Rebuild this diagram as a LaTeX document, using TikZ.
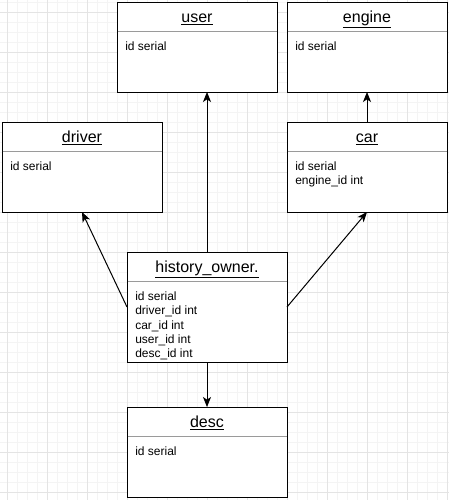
\documentclass[tikz,border=0pt]{standalone}
\usepackage{fontspec}
\setmainfont{Liberation Sans}
\usetikzlibrary{arrows.meta,calc}
\definecolor{gridminor}{HTML}{F4F4F4}
\definecolor{gridmajor}{HTML}{E4E4E4}
\definecolor{divgray}{HTML}{9A9A9A}
\tikzset{
  tbl/.style={draw=black, line width=0.75pt, fill=white, minimum width=120pt, minimum height=67.5pt, inner sep=0pt, outer sep=0pt},
  tbltall/.style={tbl, minimum height=82.5pt},
  ttl/.style={anchor=base, inner sep=0pt, font=\fontsize{12pt}{14pt}\selectfont},
  attr/.style={anchor=north west, inner sep=0pt, align=left, font=\fontsize{9pt}{10.7pt}\selectfont},
  divline/.style={draw=divgray, line width=0.75pt},
  conn/.style={draw=black, line width=0.75pt, -{Stealth[length=7.5pt,width=6pt,inset=2pt]}},
}
\begin{document}
\begin{tikzpicture}[x=0.75pt,y=-0.75pt]
\useasboundingbox (0,0) rectangle (449,500);
\fill[white] (0,0) rectangle (449,500);
% grid
\foreach \gx in {7,17,...,447} \draw[gridminor, line width=0.75pt] (\gx,0) -- (\gx,500);
\foreach \gy in {2,12,...,500} \draw[gridminor, line width=0.75pt] (0,\gy) -- (449,\gy);
\foreach \gx in {7,47,...,447} \draw[gridmajor, line width=0.75pt] (\gx,0) -- (\gx,500);
\foreach \gy in {12,52,...,500} \draw[gridmajor, line width=0.75pt] (0,\gy) -- (449,\gy);

% tables
\node[tbl] (user) at (197,47) {};
\node[tbl] (engine) at (367,47) {};
\node[tbl] (driver) at (82,167) {};
\node[tbl] (car) at (367,167) {};
\node[tbltall] (hist) at (207,307) {};
\node[tbl] (desc) at (207,452) {};

% titles
\node[ttl] (userT) at ($(user.north)+(0,20)$) {\underline{user}};
\node[ttl] (engineT) at ($(engine.north)+(0,20)$) {\underline{engine}};
\node[ttl] (driverT) at ($(driver.north)+(0,20)$) {\underline{driver}};
\node[ttl] (carT) at ($(car.north)+(0,20)$) {\underline{car}};
\node[ttl] (histT) at ($(hist.north)+(0,20)$) {\underline{history\_owner.}};
\node[ttl] (descT) at ($(desc.north)+(0,20)$) {\underline{desc}};

% dividers
\foreach \t in {user,engine,driver,car,hist,desc}
  \draw[divline] ($(\t.north west)+(0.5,29)$) -- ($(\t.north east)+(-0.5,29)$);

% attributes
\node[attr] (userA) at ($(user.north west)+(8,39.5)$) {id serial};
\node[attr] (engineA) at ($(engine.north west)+(8,39.5)$) {id serial};
\node[attr] (driverA) at ($(driver.north west)+(8,39.5)$) {id serial};
\node[attr] (carA) at ($(car.north west)+(8,39.5)$) {id serial\\engine\_id int};
\node[attr] (histA) at ($(hist.north west)+(8,39.5)$) {id serial\\driver\_id int\\car\_id int\\user\_id int\\desc\_id int};
\node[attr] (descA) at ($(desc.north west)+(8,39.5)$) {id serial};

% connectors
\draw[conn] (hist.north) -- (hist.north |- user.south);
\draw[conn] (hist.west) -- (driver.south);
\draw[conn] (hist.east) -- (car.south);
\draw[conn] (car.north) -- (engine.south);
\draw[conn] (hist.south) -- (desc.north);
\end{tikzpicture}
\end{document}
